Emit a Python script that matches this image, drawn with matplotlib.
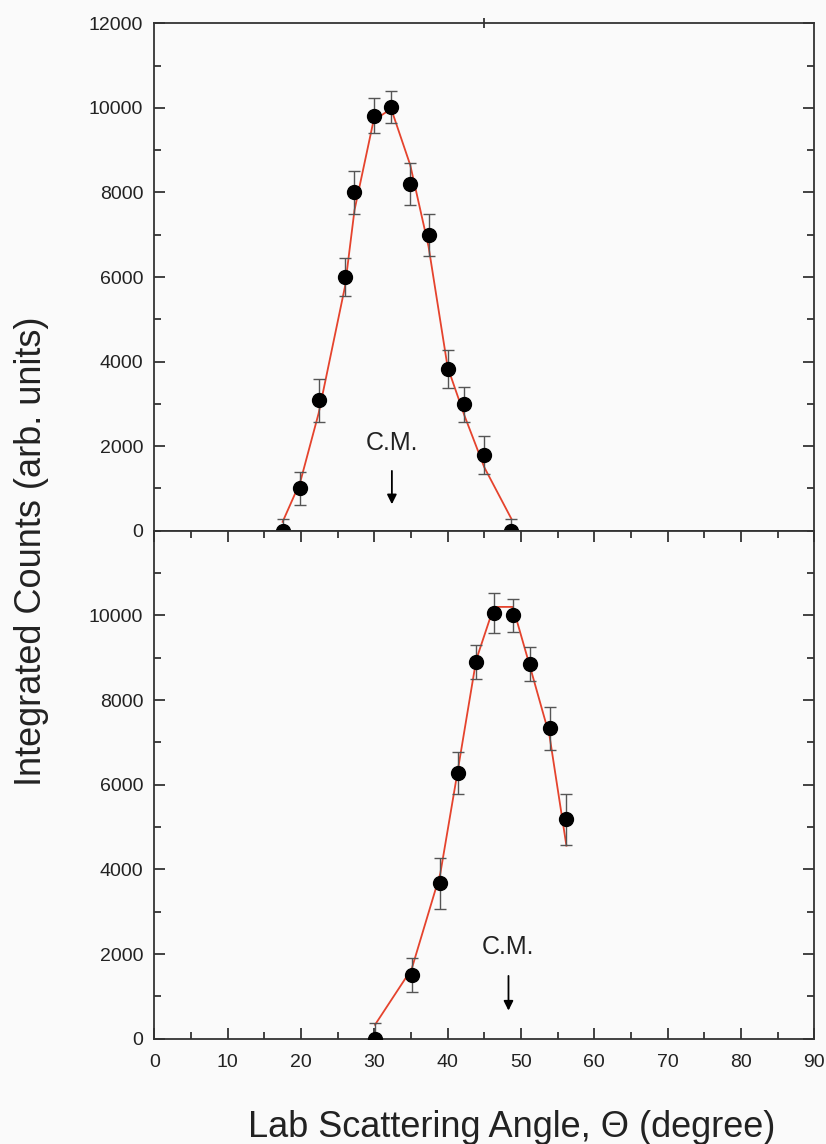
import matplotlib.pyplot as plt
import numpy as np

plt.rcParams['font.family'] = ['Liberation Sans', 'DejaVu Sans']

# Painel superior
angle_top = [17.5, 19.9, 22.4, 26.0, 27.3, 29.9, 32.3, 34.9, 37.4, 40.0, 42.3, 45.0, 48.7]
counts_top = [0, 1000, 3080, 6000, 8000, 9820, 10030, 8200, 6990, 3820, 2990, 1780, 0]
err_top = [280, 400, 500, 450, 500, 420, 380, 500, 490, 450, 410, 450, 280]
fit_top = [210, 1150, 2770, 5770, 7580, 9700, 9980, 8650, 6720, 3870, 2720, 1500, 280]

# Painel inferior
angle_bot = [30.1, 35.1, 39.0, 41.4, 43.9, 46.3, 48.9, 51.3, 53.9, 56.2]
counts_bot = [0, 1500, 3670, 6280, 8900, 10050, 10000, 8850, 7330, 5180]
err_bot = [380, 400, 600, 500, 400, 470, 390, 400, 500, 600]
fit_bot = [330, 1650, 3900, 6350, 8950, 10200, 10200, 8750, 7150, 4560]

# posicao do C.M. (x, y do texto, inicio e fim da seta)
cm_top = (32.4, 2080, 1480, 560)
cm_bot = (48.3, 2175, 1550, 600)

xticks = np.arange(0, 91, 10)
yticks = np.arange(0, 12001, 2000)

fig = plt.figure(figsize=(8.26, 11.44), dpi=100)
fig.patch.set_facecolor('#fafafa')

ax1 = fig.add_axes([0.1868, 0.5361, 0.799, 0.4435])
ax2 = fig.add_axes([0.1868, 0.0920, 0.799, 0.4441])

red = '#e5432d'
for ax, xs, ys, es, fs, cm in [(ax1, angle_top, counts_top, err_top, fit_top, cm_top),
                               (ax2, angle_bot, counts_bot, err_bot, fit_bot, cm_bot)]:
    ax.set_facecolor('#fafafa')
    ax.plot(xs, fs, color=red, lw=1.3, zorder=2)
    ax.errorbar(xs, ys, yerr=es, fmt='o', color='black', ms=10,
                ecolor='#555555', elinewidth=1.0, capsize=4, capthick=1.0, zorder=3)
    ax.text(cm[0], cm[1], 'C.M.', ha='center', va='center', fontsize=18, color='#222222')
    ax.annotate('', xy=(cm[0], cm[3]), xytext=(cm[0], cm[2]),
                arrowprops=dict(arrowstyle='-|>', color='black', lw=1.3, mutation_scale=14))
    ax.set_xlim(0, 90)
    ax.set_ylim(0, 12000)
    ax.set_xticks(xticks)
    ax.set_xticks(np.arange(5, 90, 10), minor=True)
    ax.set_yticks(yticks)
    ax.set_yticks(np.arange(1000, 12000, 2000), minor=True)
    ax.tick_params(which='both', direction='in', top=True, right=True,
                   labelsize=14, colors='#333333', labelcolor='#222222')
    ax.tick_params(axis='y', pad=8)
    ax.tick_params(axis='x', pad=11)
    ax.tick_params(which='major', length=8, width=1.3)
    ax.tick_params(which='minor', length=5, width=1.3)
    for s in ax.spines.values():
        s.set_linewidth(1.3)
        s.set_color('#333333')

# painel de cima: sem ticks em x, so um tick isolado no topo
ax1.tick_params(axis='x', which='both', bottom=False, top=False, labelbottom=False)
sec = ax1.secondary_xaxis('top')
sec.set_xticks([45])
sec.tick_params(direction='inout', length=7, width=1.3, colors='#333333', labeltop=False)
sec.spines['top'].set_visible(False)

ax2.set_yticks([0, 2000, 4000, 6000, 8000, 10000])
ax2.set_yticks(np.arange(1000, 12000, 2000).tolist() + [12000], minor=True)

fig.text(0.619, 0.014, 'Lab Scattering Angle, \u0398 (degree)', ha='center', va='center',
         fontsize=26, color='#222222')
fig.text(0.038, 0.518, 'Integrated Counts (arb. units)', rotation=90,
         ha='center', va='center', fontsize=26, color='#222222')

fig.savefig('out.png', dpi=100, facecolor=fig.get_facecolor())
